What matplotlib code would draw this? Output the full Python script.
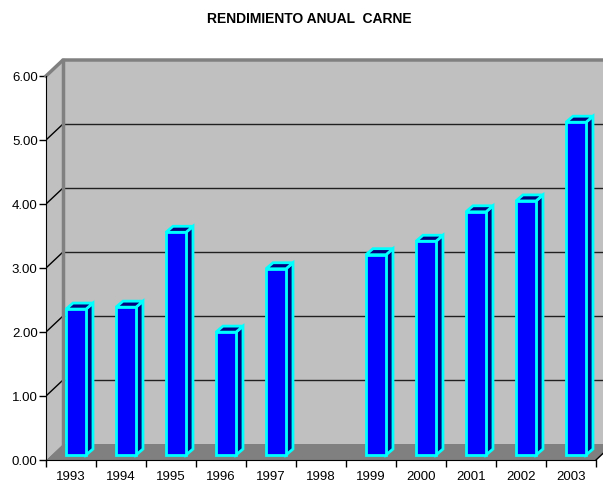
import numpy as np
import matplotlib.pyplot as plt
from matplotlib.patches import Polygon

# data (1998 has no bar)
years = ['1993', '1994', '1995', '1996', '1997', '1998',
         '1999', '2000', '2001', '2002', '2003']
rendimiento = [2.28, 2.31, 3.48, 1.92, 2.91, np.nan,
               3.13, 3.34, 3.80, 3.97, 5.20]
yticks = [0, 1, 2, 3, 4, 5, 6]

plt.rcParams['font.family'] = ['Liberation Sans', 'DejaVu Sans']

W, H = 603, 485
fig = plt.figure(figsize=(W / 100, H / 100), dpi=100)

# axes placed in pixels: x=0 at px 46, 1 category = 50px; y=0 at px 461, 1 unit = 64px
x0_px, y0_px, cat_px, unit_px = 46, 461, 50, 64
right_px, top_px = 603, 58
ax = fig.add_axes([x0_px / W, (H - y0_px) / H,
                   (right_px - x0_px) / W, (y0_px - top_px) / H])
ax.set_xlim(0, (right_px - x0_px) / cat_px)
ax.set_ylim(0, (y0_px - top_px) / unit_px)

n = len(years)
ymax = 6
dx, dy = 17 / cat_px, 16 / unit_px     # wall depth
wall = '#c0c0c0'
edge = '#808080'

# back wall, side wall, floor
ax.add_patch(Polygon([(dx, dy), (n + dx, dy), (n + dx, ymax + dy), (dx, ymax + dy)],
                     closed=True, fc=wall, ec='none', zorder=0, clip_on=False))
ax.add_patch(Polygon([(0, 0), (dx, dy), (dx, ymax + dy), (0, ymax)],
                     closed=True, fc=wall, ec='none', zorder=0))
ax.add_patch(Polygon([(0, 0), (n, 0), (n + dx, dy), (dx, dy)],
                     closed=True, fc=edge, ec='none', zorder=1, clip_on=False))

# gridlines
for v in yticks[1:-1]:
    ax.plot([dx, n + dx], [v + dy, v + dy], color='#202020', lw=1, zorder=1, clip_on=False)
    ax.plot([0, dx], [v, v + dy], color='black', lw=1, zorder=1)
# wall edges
ax.plot([0, dx, n + dx], [ymax, ymax + dy, ymax + dy], color=edge, lw=2.5, zorder=2, clip_on=False)
ax.plot([dx, dx], [dy, ymax + dy], color=edge, lw=2.5, zorder=2)
ax.plot([n, n + dx], [0, dy], color='black', lw=1, zorder=2, clip_on=False)

# bars
bx0, bw = 0.4, 0.4
bdx, bdy = 7 / cat_px, 6 / unit_px
base = 5 / unit_px
xs = np.arange(n) + bx0 + bw / 2
ax.bar(xs, rendimiento, width=bw, bottom=base, color='#0000ff',
       edgecolor='#00ffff', linewidth=2, zorder=4)
for i, v in enumerate(rendimiento):
    if np.isnan(v):
        continue
    l, r, t = i + bx0, i + bx0 + bw, base + v
    ax.add_patch(Polygon([(r, base), (r + bdx, base + bdy), (r + bdx, t + bdy), (r, t)],
                         closed=True, fc='#000080', ec='#00ffff', lw=2, zorder=3))
    ax.add_patch(Polygon([(l, t), (r, t), (r + bdx, t + bdy), (l + bdx, t + bdy)],
                         closed=True, fc='#000080', ec='#00ffff', lw=2, zorder=3))

# axes
for s in ['top', 'right']:
    ax.spines[s].set_visible(False)
ax.spines['left'].set_bounds(0, ymax)
ax.spines['bottom'].set_bounds(0, n)
ax.spines['left'].set_zorder(5)
ax.spines['bottom'].set_zorder(5)
ax.set_yticks(yticks)
ax.set_yticklabels([f'{v:.2f}' for v in yticks], fontsize=9.5)
ax.set_xticks(np.arange(n + 1))
ax.set_xticklabels([])
ax.set_xticks(np.arange(n) + 0.5, minor=True)
ax.set_xticklabels(years, minor=True, fontsize=9.5)
ax.tick_params(axis='y', length=5, width=1, pad=1)
ax.tick_params(axis='x', which='major', length=5, width=1)
ax.tick_params(axis='x', which='minor', length=0, pad=7)
ax.set_facecolor('none')

fig.text(309 / W, 1 - 19 / H, 'RENDIMIENTO ANUAL  CARNE', ha='center', va='center',
         fontsize=10, fontweight='bold')

fig.savefig('out.png', dpi=100)
